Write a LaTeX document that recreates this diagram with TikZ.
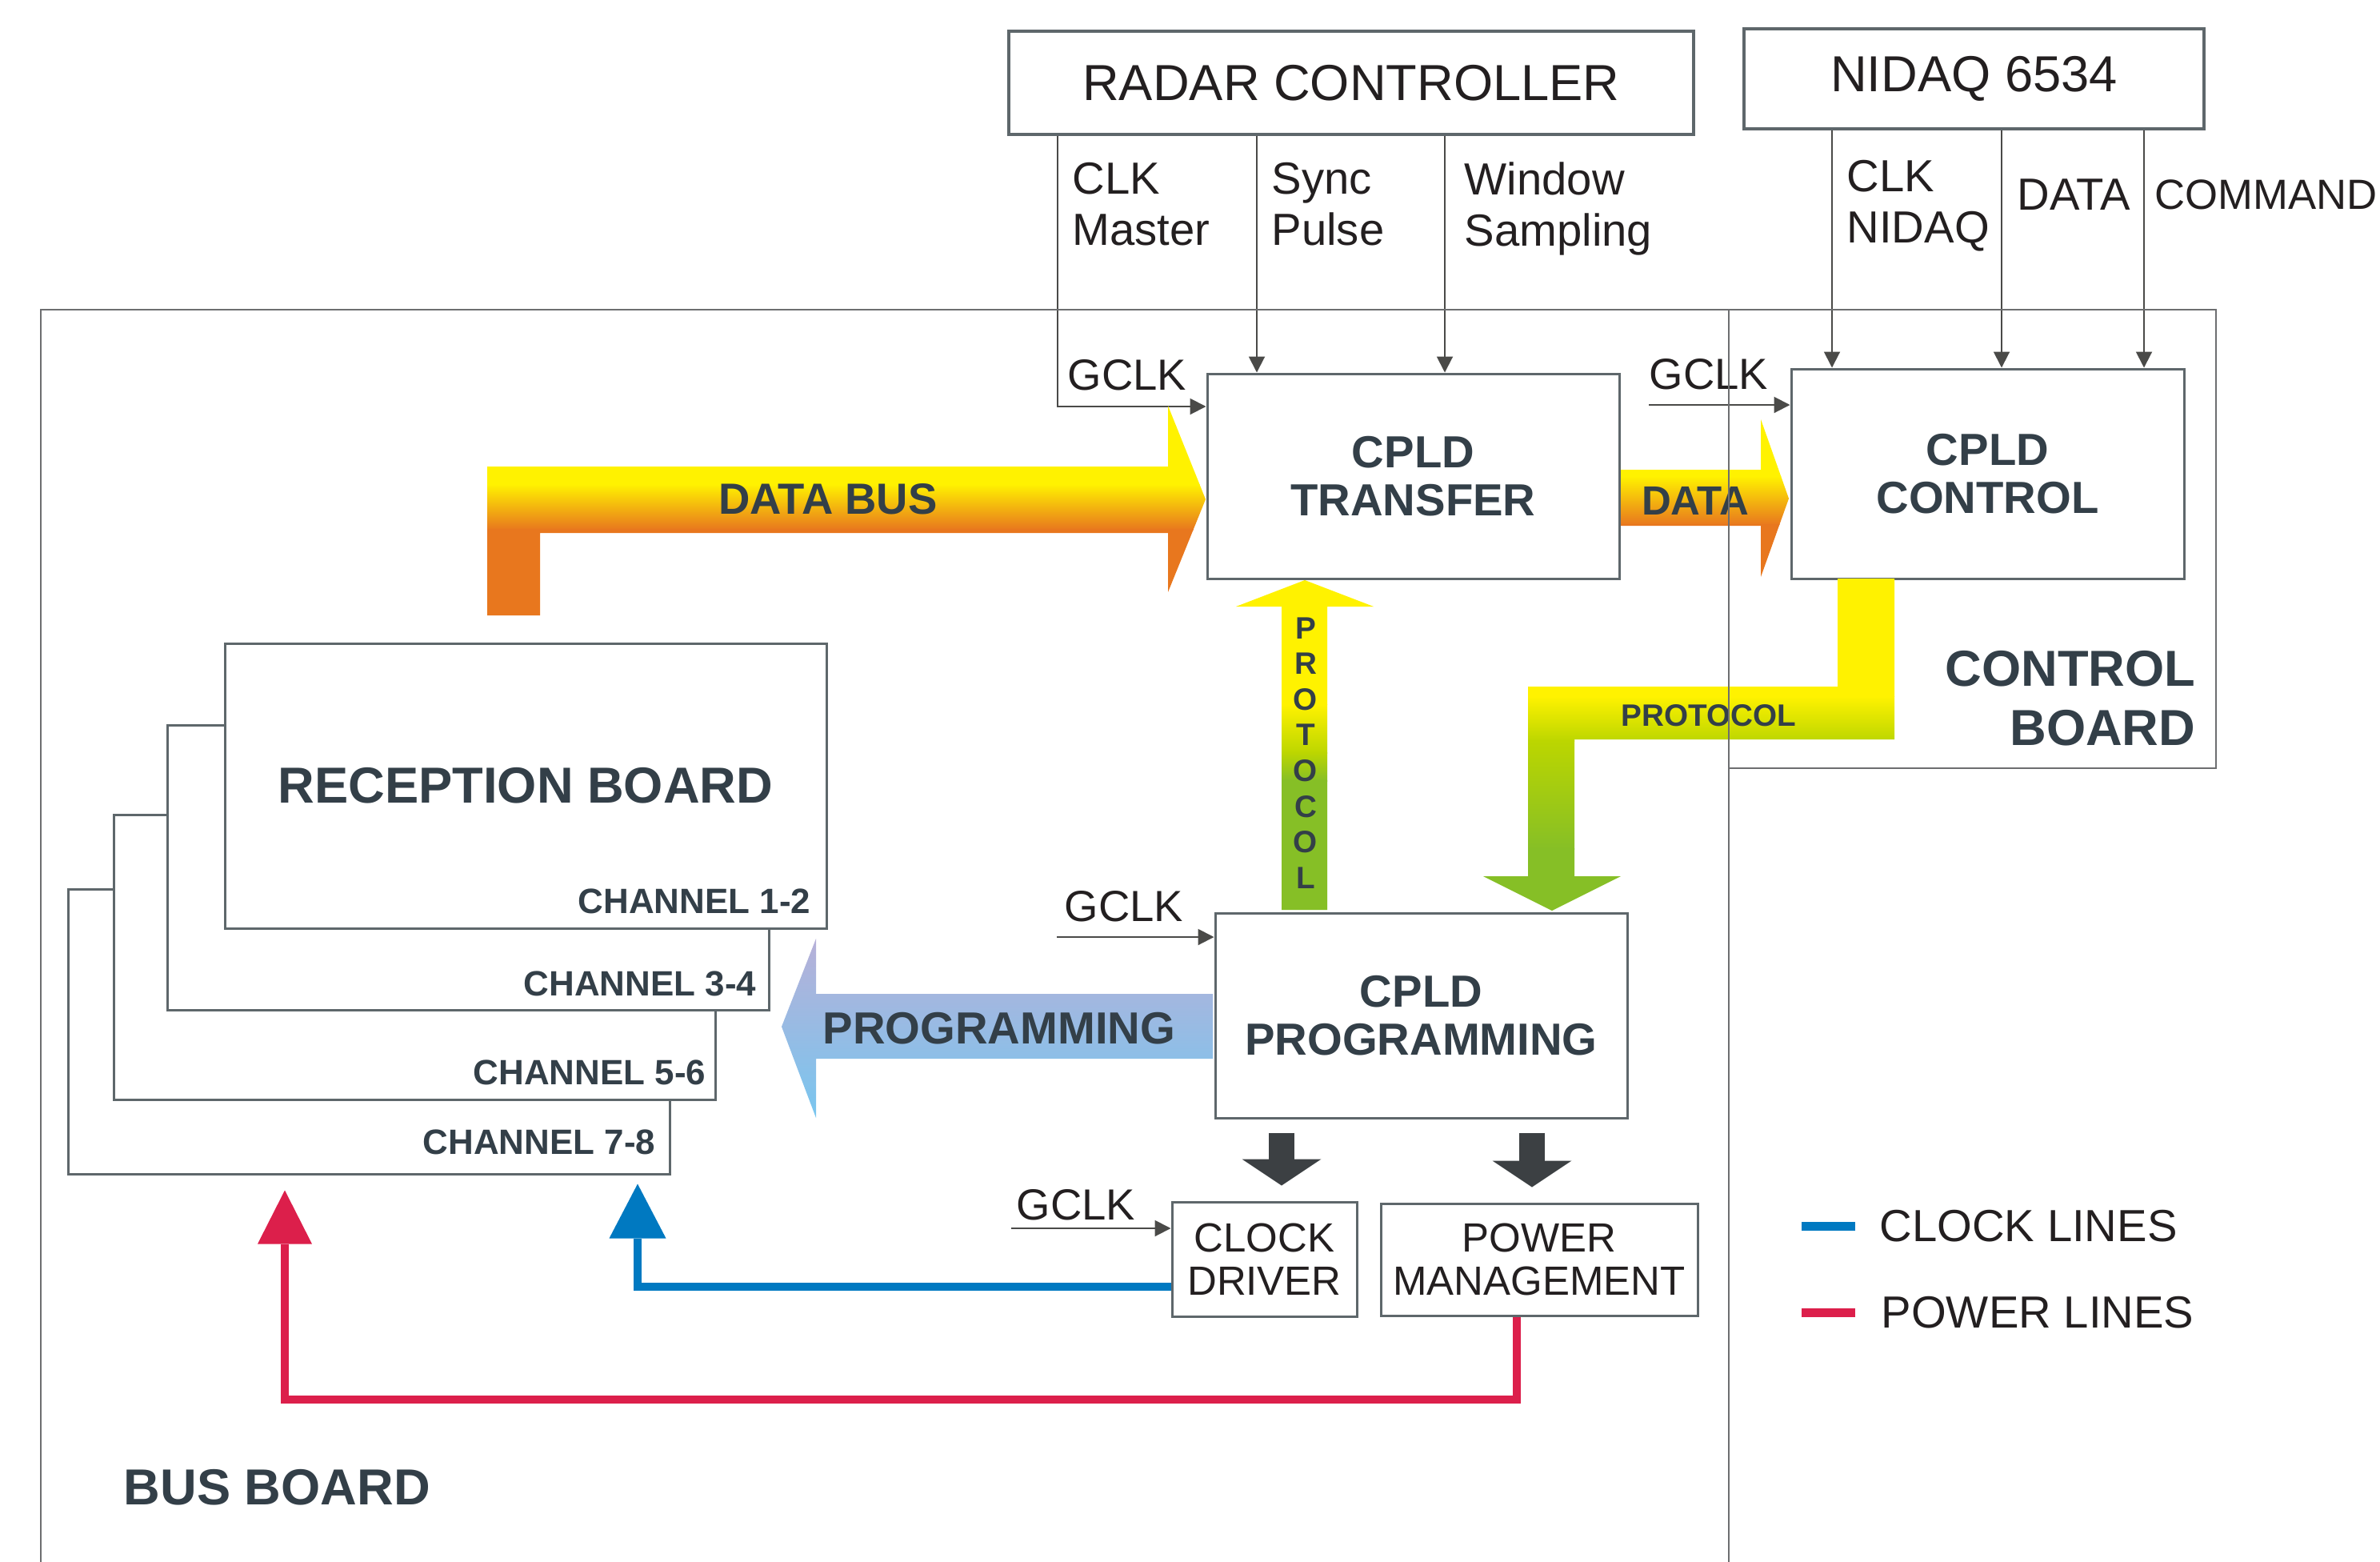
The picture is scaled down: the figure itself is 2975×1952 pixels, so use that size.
\documentclass[tikz,border=0pt]{standalone}
\usepackage{fontspec}
\setmainfont{Liberation Sans}
\usetikzlibrary{arrows.meta}
\definecolor{boxgray}{HTML}{5E676B}
\definecolor{boardgray}{HTML}{6D6E70}
\definecolor{siggray}{HTML}{4A4A48}
\definecolor{labeldark}{HTML}{231F20}
\definecolor{titledark}{HTML}{333F48}
\definecolor{busyellow}{HTML}{FFF200}
\definecolor{busorange}{HTML}{E8771E}
\definecolor{protlime}{HTML}{BCD600}
\definecolor{protgreen}{HTML}{86BF26}
\definecolor{proglav}{HTML}{B7B0D8}
\definecolor{progblue}{HTML}{78C6EF}
\definecolor{clockblue}{HTML}{0079C1}
\definecolor{powerred}{HTML}{DC1F4B}
\definecolor{arrowdark}{HTML}{3C4043}

\tikzset{
  box/.style={draw=boxgray, line width=0.3mm, fill=white, inner sep=0pt},
  extbox/.style={box, line width=0.35mm, font=\fontsize{18}{20}\selectfont, text=labeldark},
  cpld/.style={box, font=\bfseries\fontsize{16}{17}\selectfont, text=titledark, align=center},
  smallbox/.style={box, font=\fontsize{14.5}{15.4}\selectfont, text=labeldark, align=center},
  rxboard/.style={box, minimum width=75.2mm, minimum height=35.6mm},
  chan/.style={font=\bfseries\fontsize{12.5}{14}\selectfont, text=titledark, inner sep=0pt, anchor=east},
  siglabel/.style={font=\fontsize{16}{18.2}\selectfont, text=labeldark, align=left, inner sep=0pt, anchor=west},
  gclk/.style={font=\fontsize{15.5}{17}\selectfont, text=labeldark, inner sep=0pt},
  sigline/.style={draw=siggray, line width=0.2mm, -{Triangle[length=2mm,width=2mm]}},
  boardline/.style={draw=boardgray, line width=0.25mm},
  flowtext/.style={font=\bfseries\fontsize{16}{17}\selectfont, text=titledark, inner sep=0pt},
  boardtitle/.style={font=\bfseries\fontsize{18}{21}\selectfont, text=titledark, inner sep=0pt},
  clockline/.style={draw=clockblue, line width=1mm, -{Triangle[length=6.8mm,width=7.1mm,line width=0pt]}},
  powerline/.style={draw=powerred, line width=1mm, -{Triangle[length=6.7mm,width=6.8mm,line width=0pt]}},
  downarrow/.style={draw=arrowdark, line width=3.2mm, -{Triangle[length=3.3mm,width=9.9mm,line width=0pt]}},
  legend/.style={font=\fontsize{16}{18}\selectfont, text=labeldark, inner sep=0pt, anchor=west}
}

\begin{document}
\begin{tikzpicture}[x=0.1mm, y=-0.1mm]
\useasboundingbox (0,0) rectangle (2975,1952);
\clip (0,0) rectangle (2975,1952);

% outside units
\node[extbox, minimum width=85.6mm, minimum height=12.9mm] (radar) at (1689,103.5) {RADAR CONTROLLER};
\node[extbox, minimum width=57.5mm, minimum height=12.5mm] (nidaq) at (2467.5,98.5) {NIDAQ 6534};

% cpld blocks
\node[cpld, minimum width=51.5mm, minimum height=25.6mm] (transfer) at (1766.5,595) {CPLD\\TRANSFER};
\node[cpld, minimum width=49.1mm, minimum height=26.2mm] (control) at (2484.5,592) {CPLD\\CONTROL};
\node[cpld, minimum width=51.5mm, minimum height=25.6mm] (prog) at (1776.5,1269) {CPLD\\PROGRAMMING};
\node[smallbox, minimum width=23.1mm, minimum height=14.3mm] (clkdrv) at (1580.5,1573.5) {CLOCK\\DRIVER};
\node[smallbox, minimum width=39.6mm, minimum height=14mm] (power) at (1924,1574) {POWER\\MANAGEMENT};

% reception boards, back to front
\node[rxboard] (rb4) at (461.5,1289) {};
\node[rxboard] (rb3) at (518.5,1196.5) {};
\node[rxboard] (rb2) at (585.5,1084.5) {};
\node[rxboard, font=\bfseries\fontsize{18}{20}\selectfont, text=titledark] (rb1) at (657,982) {RECEPTION BOARD};
\node[chan] (ch12) at (1014,1126) {CHANNEL 1-2};
\node[chan] (ch34) at (946,1229) {CHANNEL 3-4};
\node[chan] (ch56) at (883,1340) {CHANNEL 5-6};
\node[chan] (ch78) at (820,1427) {CHANNEL 7-8};

% signals from the radar controller and the nidaq
\node[siglabel] (clkmlab) at (1340,255) {CLK\\Master};
\node[siglabel] (synclab) at (1589,255) {Sync\\Pulse};
\node[siglabel] (winlab) at (1830,261) {Window\\Sampling};
\node[siglabel] (nclklab) at (2308,257) {CLK\\NIDAQ};
\node[siglabel] (datalab) at (2521,243) {DATA};
\node[siglabel, font=\fontsize{15}{17}\selectfont] (cmdlab) at (2693,243) {COMMAND};
\coordinate (clkm) at (1322,508);
\coordinate (sync) at (1571,0);
\coordinate (win) at (1806,0);
\coordinate (nclk) at (2290,0);
\coordinate (ndata) at (2502,0);
\coordinate (ncmd) at (2680,0);
\draw[sigline] (radar.south -| clkm) |- (transfer.west |- clkm);
\draw[sigline] (radar.south -| sync) -- (transfer.north -| sync);
\draw[sigline] (radar.south -| win) -- (transfer.north -| win);
\draw[sigline] (nidaq.south -| nclk) -- (control.north -| nclk);
\draw[sigline] (nidaq.south -| ndata) -- (control.north -| ndata);
\draw[sigline] (nidaq.south -| ncmd) -- (control.north -| ncmd);

% gclk inputs
\node[gclk] (gclka) at (1409,469) {GCLK};
\node[gclk] (gclkb) at (2136,468) {GCLK};
\node[gclk] (gclkc) at (1405,1133) {GCLK};
\node[gclk] (gclkd) at (1345,1506) {GCLK};
\coordinate (gclkbin) at (2061,506);
\coordinate (gclkcin) at (1321,1171);
\coordinate (gclkdin) at (1264,1535);
\draw[sigline] (gclkbin) -- (control.west |- gclkbin);
\draw[sigline] (gclkcin) -- (prog.west |- gclkcin);
\draw[sigline] (gclkdin) -- (clkdrv.west |- gclkdin);

% data bus
\begin{scope}
\clip (609,769) -- (609,583) -- (1460,583) -- (1460,507) -- (1507,624) -- (1460,740) -- (1460,666) -- (675,666) -- (675,769) -- cycle;
\fill[busyellow] (600,500) rectangle (1510,606);
\shade[top color=busyellow, bottom color=busorange] (600,605) rectangle (1510,662);
\fill[busorange] (600,661) rectangle (1510,775);
\end{scope}
\node[flowtext, font=\bfseries\fontsize{15.5}{17}\selectfont] (databus) at (1035,624) {DATA BUS};

% data
\begin{scope}
\clip (2026,587) -- (2201,587) -- (2201,524) -- (2236,623) -- (2201,721) -- (2201,657) -- (2026,657) -- cycle;
\fill[busyellow] (2020,520) rectangle (2240,596);
\shade[top color=busyellow, bottom color=busorange] (2020,595) rectangle (2240,656);
\fill[busorange] (2020,655) rectangle (2240,725);
\end{scope}
\node[flowtext, font=\bfseries\fontsize{14.5}{16}\selectfont] (datatext) at (2119,626) {DATA};

% protocol up
\begin{scope}
\clip (1602,1137) -- (1602,758) -- (1545,758) -- (1631,725) -- (1717,758) -- (1659,758) -- (1659,1137) -- cycle;
\fill[busyellow] (1540,720) rectangle (1720,881);
\shade[top color=busyellow, bottom color=protlime] (1540,880) rectangle (1720,941);
\shade[top color=protlime, bottom color=protgreen] (1540,940) rectangle (1720,976);
\fill[protgreen] (1540,975) rectangle (1720,1140);
\end{scope}
\node[flowtext, font=\bfseries\fontsize{11}{12.7}\selectfont, align=center] (protup) at (1632,941) {P\\R\\O\\T\\O\\C\\O\\L};

% protocol elbow
\begin{scope}
\clip (2297,723) -- (2368,723) -- (2368,924) -- (1968,924) -- (1968,1095) -- (2026,1095) -- (1940,1138) -- (1854,1095) -- (1910,1095) -- (1910,858) -- (2297,858) -- cycle;
\fill[busyellow] (1850,720) rectangle (2370,871);
\shade[top color=busyellow, bottom color=protlime] (1850,870) rectangle (2370,926);
\shade[top color=protlime, bottom color=protgreen] (1850,925) rectangle (2370,1061);
\fill[protgreen] (1850,1060) rectangle (2370,1140);
\end{scope}
\node[flowtext, font=\bfseries\fontsize{11}{12}\selectfont] (protside) at (2136,894) {PROTOCOL};

% programming
\shade[top color=proglav, bottom color=progblue] (1516,1242) -- (1020,1242) -- (1020,1173) -- (977,1283) -- (1020,1397) -- (1020,1323) -- (1516,1323) -- cycle;
\node[flowtext] (progtext) at (1249,1285) {PROGRAMMING};

% programming outputs
\coordinate (dleft) at (1602,0);
\coordinate (dright) at (1915,0);
\draw[downarrow, shorten <=1.7mm, shorten >=1.9mm] (prog.south -| dleft) -- (clkdrv.north -| dleft);
\draw[downarrow, shorten <=1.7mm, shorten >=1.9mm] (prog.south -| dright) -- (power.north -| dright);

% clock and power lines
\coordinate (clkbus) at (797,1608);
\coordinate (pwrcorner) at (1896,1749);
\coordinate (pwrup) at (356,1749);
\draw[clockline, shorten >=1.1mm] (clkdrv.west |- clkbus) -| (rb4.south -| clkbus);
\draw[powerline, shorten >=1.9mm] (power.south -| pwrcorner) -- (pwrcorner) -- (pwrup) -- (rb4.south -| pwrup);

% boards
\draw[boardline] (51,1960) |- (2770,387) |- (2161,960);
\draw[boardline] (2161,387) -- (2161,1960);
\node[boardtitle, anchor=west] (busboard) at (154,1859) {BUS BOARD};
\node[boardtitle, anchor=east, align=right] (ctrlboard) at (2745,873) {CONTROL\\BOARD};

% legend
\node[legend] (legclk) at (2349,1532) {CLOCK LINES};
\node[legend] (legpwr) at (2351,1640) {POWER LINES};
\draw[draw=clockblue, line width=1.1mm] (legclk.west) ++(-30,0) -- ++(-67,0);
\draw[draw=powerred, line width=1.1mm] (legpwr.west) ++(-32,0) -- ++(-67,0);
\end{tikzpicture}
\end{document}
